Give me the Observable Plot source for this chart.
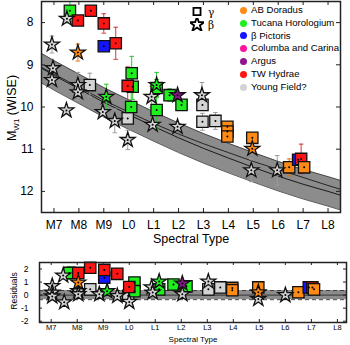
<!DOCTYPE html>
<html><head><meta charset="utf-8">
<script src="https://cdn.jsdelivr.net/npm/d3@7"></script>
<script src="https://cdn.jsdelivr.net/npm/@observablehq/plot@0.6"></script>
<style>
body{margin:0;background:#fff;font-family:"Liberation Sans",Arial,sans-serif;color:#000;}
#wrap{position:relative;width:350px;height:345px;overflow:hidden;}
#main{position:absolute;left:0;top:0;}
#res{position:absolute;left:0;top:250px;}
.rot{position:absolute;transform:translate(-50%,-50%) rotate(-90deg);white-space:nowrap;}
#legend{position:absolute;left:240px;top:4px;font-size:9.6px;line-height:12.8px;}
#legend .row{display:flex;align-items:center;height:12.8px;}
#legend .c{width:7px;height:7px;border-radius:50%;margin-right:4px;display:inline-block;}
#shapes{position:absolute;left:190px;top:5px;font-size:10.5px;font-family:"DejaVu Serif",serif;}
#shapes .row{display:flex;align-items:center;height:13px;}
</style></head><body><div id="wrap">
<div id="main"></div>
<div id="res"></div>
<div class="rot" style="left:13px;top:108px;font-size:12.5px;">M<sub style="font-size:8px;">W1</sub> (WISE)</div>
<div class="rot" style="left:14px;top:291px;font-size:8.5px;">Residuals</div>
<div id="shapes"></div>
<div id="legend"></div>
</div>
<script>
// ---- tick labels ----
const xTickValues = [7,8,9,10,11,12,13,14,15,16,17,18];
const xTickLabels = ["M7","M8","M9","L0","L1","L2","L3","L4","L5","L6","L7","L8"];
const yTickValues = [8,9,10,11,12];
const resTickValues = [-2,-1,0,1,2];

// ---- legend ----
const groupKeys  = ["AB","THA","BPMG","CC","ARG","TWA","YF"];
const groupNames = ["AB Doradus","Tucana Horologium","β Pictoris","Columba and Carina","Argus","TW Hydrae","Young Field?"];
const shapeKeys  = ["square","star"];
const shapeNames = ["γ","β"];

// ---- sequence band (main panel) ----
const bandSpt    = [6.5,7,8,9,10,11,12,13,14,15,16,17,18,18.5];
const bandUpper  = [8.73,8.90,9.22,9.54,9.83,10.11,10.38,10.63,10.86,11.08,11.29,11.48,11.65,11.74];
const bandCenter = [9.08,9.25,9.57,9.89,10.18,10.46,10.73,10.98,11.21,11.43,11.64,11.83,12.00,12.09];
const bandLower  = [9.43,9.60,9.92,10.24,10.53,10.81,11.08,11.33,11.56,11.78,11.99,12.18,12.35,12.44];
const fieldLine  = [9.06,9.22,9.53,9.84,10.12,10.39,10.64,10.87,11.08,11.29,11.48,11.67,11.86,11.95];

// ---- objects (main panel) ----
const ptSpt   = [6.92,6.96,6.92,7.52,7.64,7.96,8.48,9.0,9.48,9.0,7.96,7.96,7.96,8.44,9.1,7.5,8.96,9.44,9.96,9.96,10.12,10.16,9.96,10.1,11.12,11.12,10.92,11.12,10.96,11.64,11.96,12.12,11.96,12.94,12.96,12.96,13.48,13.96,13.96,13.96,14.96,14.96,14.92,15.96,16.44,16.8,16.92,17.04];
const ptMag   = [8.52,9.08,9.36,7.91,7.72,7.95,7.72,8.02,8.49,8.56,8.71,9.48,9.65,9.48,9.76,10.08,10.12,10.33,10.27,10.78,9.2,9.52,9.5,10.0,9.55,9.48,9.76,10.07,10.42,9.72,9.72,9.95,10.47,9.72,9.95,10.35,10.33,10.47,10.58,10.70,10.73,10.99,11.5,11.5,11.43,11.25,11.23,11.43];
const ptErr   = [0.2,0.1,0.1,0.1,0.25,0.08,0.08,0.23,0.38,0.05,0.2,0.3,0.2,0.28,0.3,0.05,0.1,0.28,0.1,0.23,0.4,0.3,0.45,0.35,0.2,0.3,0.25,0.45,0.1,0.15,0.05,0.1,0.05,0.3,0.1,0.2,0.2,0.1,0.1,0.1,0.1,0.05,0.27,0.35,0.2,0.05,0.35,0.1];
const ptGroup = ["YF","YF","YF","YF","THA","TWA","TWA","TWA","TWA","BPMG","AB","YF","YF","YF","THA","YF","YF","YF","YF","YF","THA","THA","TWA","THA","THA","THA","YF","THA","YF","THA","ARG","THA","YF","YF","YF","YF","YF","AB","AB","AB","AB","AB","YF","YF","AB","BPMG","TWA","AB"];
const ptShape = ["star","star","star","star","square","square","square","square","square","square","star","star","star","square","star","star","star","star","square","star","square","square","square","square","square","star","star","square","star","square","star","square","star","star","square","square","square","square","square","square","square","star","star","star","square","square","square","square"];

// ---- residuals panel ----
const resSpt   = [7.04,7.04,7.04,7.46,7.5,7.7,8.04,8.04,8.04,8.04,8.5,8.5,9.04,9.04,8.85,9.15,9.54,9.54,9.96,10.0,10.2,10.2,10.0,10.86,10.9,11.15,11.15,11.7,12.04,12.04,12.2,13.04,13.04,13.5,13.96,13.96,14.96,14.96,14.96,16.0,16.5,16.9,17.04,17.1];
const resVal   = [0.7,0.2,-0.1,1.5,-0.55,1.7,1.7,0.3,0.07,0.96,2.1,0.44,1.33,1.93,0.07,0.3,1.63,-0.07,-0.05,-0.52,0.96,0.3,0.62,0.6,0.2,0.44,1.04,0.81,0.07,0.89,0.67,1.04,0.44,0.59,0.55,0.38,-0.3,0.59,0.22,0.0,0.22,0.59,0.59,0.44];
const resErr   = [0.2,0.1,0.1,0.1,0.1,0.5,0.1,0.2,0.1,0.2,0.1,0.2,0.1,0.3,0.1,0.2,0.4,0.1,0.1,0.2,0.4,0.3,0.3,0.2,0.1,0.2,0.2,0.2,0.1,0.1,0.1,0.2,0.2,0.1,0.1,0.1,0.2,0.1,0.1,0.1,0.1,0.1,0.2,0.1];
const resGroup = ["YF","YF","YF","YF","YF","THA","TWA","YF","YF","AB","TWA","YF","BPMG","TWA","YF","THA","TWA","YF","YF","YF","THA","THA","TWA","YF","YF","THA","THA","THA","YF","ARG","THA","YF","YF","YF","AB","AB","YF","AB","AB","YF","AB","BPMG","TWA","AB"];
const resShape = ["star","star","star","star","star","square","square","star","star","star","square","square","square","square","star","star","square","star","square","star","square","square","square","star","star","square","star","square","star","star","square","star","square","square","square","square","star","square","star","star","square","square","square","square"];
const resBand  = [-0.35, 0.35];

// ---- styles ----
const fillOf = {AB:"#ff8a14",THA:"#1fef1f",BPMG:"#1414ff",CC:"#ff14a0",ARG:"#8e168e",TWA:"#ff1414",YF:"#d4d4d4"};
const errOf  = {AB:"#e07010",THA:"#2fc42f",BPMG:"#3a3ad0",CC:"#d0208a",ARG:"#7a2a7a",TWA:"#cc3a3a",YF:"#9c9c9c"};
const font = '"Liberation Sans",Arial,sans-serif';
const cap = {draw(ctx){ ctx.moveTo(-2.3,0); ctx.lineTo(2.3,0); }};
const rOf = s => s === "star" ? 4.7 : 6.4;

const band = bandSpt.map((x,i)=>({x, u:bandUpper[i], c:bandCenter[i], l:bandLower[i], f:fieldLine[i]}));
const pts = ptSpt.map((x,i)=>({x, y:ptMag[i], e:ptErr[i], g:ptGroup[i], s:ptShape[i]}));
const rpts = resSpt.map((x,i)=>({x, y:resVal[i], e:resErr[i], g:resGroup[i], s:resShape[i]}));
const fmtX = d => xTickLabels[xTickValues.indexOf(d)];

function pointMarks(data){
  return [
    Plot.ruleX(data, {x:"x", y1:d=>d.y-d.e, y2:d=>d.y+d.e, stroke:d=>errOf[d.g], strokeWidth:1, clip:true}),
    Plot.dot(data, {x:"x", y:d=>d.y-d.e, symbol:cap, fill:"none", stroke:d=>errOf[d.g], strokeWidth:1, clip:true}),
    Plot.dot(data, {x:"x", y:d=>d.y+d.e, symbol:cap, fill:"none", stroke:d=>errOf[d.g], strokeWidth:1, clip:true}),
    Plot.dot(data, {x:"x", y:"y", symbol:d=>d.s, r:d=>rOf(d.s), fill:d=>fillOf[d.g], stroke:"#111", strokeWidth:1.3}),
    Plot.dot(data, {x:"x", y:"y", r:1, fill:"#000", stroke:"none"})
  ];
}

// main panel
const W = 350, H = 250, mL = 41, mR = 10, mT = 1, mB = 38;
const iW = W - mL - mR, iH = H - mT - mB;
const main = Plot.plot({
  width:W, height:H, marginLeft:mL, marginRight:mR, marginTop:mT, marginBottom:mB,
  x:{domain:[6.5,18.5]}, y:{domain:[7.5,12.5], reverse:true},
  r:{type:"identity"}, color:{type:"identity"},
  style:{fontFamily:font, fontSize:"12px", background:"transparent", color:"#000"},
  marks:[
    Plot.areaY(band, {x:"x", y1:"u", y2:"l", fill:"#8c8c8c", clip:true}),
    Plot.lineY(band, {x:"x", y:"u", stroke:"#333", strokeWidth:0.8, clip:true}),
    Plot.lineY(band, {x:"x", y:"l", stroke:"#333", strokeWidth:0.8, clip:true}),
    Plot.lineY(band, {x:"x", y:"c", stroke:"#1a1a1a", strokeWidth:1, clip:true}),
    Plot.lineY(band, {x:"x", y:"f", stroke:"#1a1a1a", strokeWidth:0.9, clip:true}),
    ...pointMarks(pts),
    Plot.frame({stroke:"#222", strokeWidth:1.5}),
    Plot.ruleX(xTickValues, {x:d=>d, insetTop:iH-4, stroke:"#222"}),
    Plot.ruleX(xTickValues, {x:d=>d, insetBottom:iH-4, stroke:"#222"}),
    Plot.ruleY(yTickValues, {y:d=>d, insetRight:iW-4, stroke:"#222"}),
    Plot.ruleY(yTickValues, {y:d=>d, insetLeft:iW-4, stroke:"#222"}),
    Plot.axisX(xTickValues, {tickSize:0, tickPadding:8, tickFormat:fmtX, label:null, fontSize:12}),
    Plot.axisY(yTickValues, {tickSize:0, tickPadding:8, tickFormat:d=>String(d), label:null, fontSize:12}),
    Plot.text(["Spectral Type"], {frameAnchor:"bottom", dy:30, text:d=>d, fontSize:12.5})
  ]
});
document.getElementById("main").append(main);

// residual panel
const W2 = 350, H2 = 95, mL2 = 39, mR2 = 4, mT2 = 12, mB2 = 23;
const iW2 = W2 - mL2 - mR2, iH2 = H2 - mT2 - mB2;
const res = Plot.plot({
  width:W2, height:H2, marginLeft:mL2, marginRight:mR2, marginTop:mT2, marginBottom:mB2,
  x:{domain:[6.55,18.35]}, y:{domain:[-2.1,2.5]},
  r:{type:"identity"}, color:{type:"identity"},
  style:{fontFamily:font, fontSize:"8px", background:"transparent", color:"#000"},
  marks:[
    Plot.rect([resBand], {y1:d=>d[0], y2:d=>d[1], fill:"#8c8c8c"}),
    Plot.ruleY(resBand, {y:d=>d, stroke:"#333", strokeWidth:0.9, strokeDasharray:"4,3"}),
    Plot.ruleY([0], {y:d=>d, stroke:"#444", strokeWidth:1.2}),
    ...pointMarks(rpts),
    Plot.frame({stroke:"#222", strokeWidth:1.5}),
    Plot.ruleX(xTickValues, {x:d=>d, insetTop:iH2-3, stroke:"#222"}),
    Plot.ruleX(xTickValues, {x:d=>d, insetBottom:iH2-3, stroke:"#222"}),
    Plot.ruleY(resTickValues, {y:d=>d, insetRight:iW2-3, stroke:"#222"}),
    Plot.ruleY(resTickValues, {y:d=>d, insetLeft:iW2-3, stroke:"#222"}),
    Plot.axisX(xTickValues, {tickSize:0, tickPadding:2.5, tickFormat:fmtX, label:null, fontSize:7.5}),
    Plot.axisY(resTickValues, {tickSize:0, tickPadding:11, tickFormat:d=>String(d), label:null, fontSize:8.5}),
    Plot.text(["Spectral Type"], {frameAnchor:"bottom", dy:19, text:d=>d, fontSize:8})
  ]
});
document.getElementById("res").append(res);

// legends
const leg = document.getElementById("legend");
groupKeys.forEach((k,i)=>{
  const row = document.createElement("div"); row.className = "row";
  const c = document.createElement("span"); c.className = "c"; c.style.background = fillOf[k];
  const t = document.createElement("span"); t.textContent = groupNames[i];
  row.append(c, t); leg.append(row);
});
const sh = document.getElementById("shapes");
shapeKeys.forEach((k,i)=>{
  const row = document.createElement("div"); row.className = "row";
  const svg = d3.create("svg").attr("width",14).attr("height",13);
  const sym = k === "star" ? d3.symbolStar : d3.symbolSquare;
  const size = k === "star" ? 70 : 50;
  svg.append("path").attr("transform","translate(7,6.5)").attr("d", d3.symbol(sym, size)())
     .attr("fill","#fff").attr("stroke","#000").attr("stroke-width",1.8);
  const t = document.createElement("span"); t.textContent = shapeNames[i]; t.style.marginLeft = "4px";
  row.append(svg.node(), t); sh.append(row);
});
</script>
</body></html>
